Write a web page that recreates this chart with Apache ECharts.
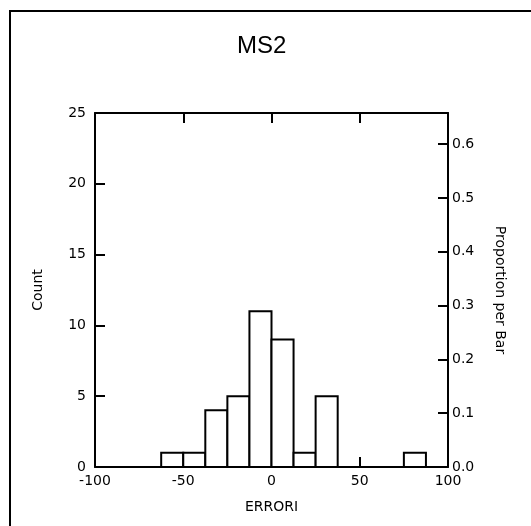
<!DOCTYPE html>
<html>
<head>
<meta charset="utf-8">
<script src="https://cdn.jsdelivr.net/npm/echarts@6/dist/echarts.min.js"></script>
<style>
  html, body { margin: 0; padding: 0; background: #fff; }
  #chart { width: 531px; height: 526px; }
</style>
</head>
<body>
<div id="chart"></div>
<script>
// histogram of ERRORI, bins 12.5 wide
const binStarts = [-62.5, -50, -37.5, -25, -12.5, 0, 12.5, 25, 37.5, 50, 62.5, 75]
const counts = [1, 1, 4, 5, 11, 9, 1, 5, 0, 0, 0, 1]
const binWidth = 12.5
const xTicks = [-100, -50, 0, 50, 100]
const countTicks = [0, 5, 10, 15, 20, 25]
const total = counts.reduce((a, b) => a + b, 0)

const font = 'DejaVu Sans, sans-serif'
const bins = binStarts.map((s, i) => [s, s + binWidth, counts[i]]).filter(d => d[2] > 0)

const line = { onZero: false, show: true, lineStyle: { color: '#000', width: 2 } }
const tick = { show: true, inside: true, length: 10, lineStyle: { color: '#000', width: 2 } }
const txt = { fontFamily: font, fontSize: 14, color: '#000' }

const chart = echarts.init(document.getElementById('chart'))
chart.setOption({
  animation: false,
  backgroundColor: '#fff',
  title: {
    text: 'MS2', left: 232, top: 29,
    textStyle: { fontFamily: 'Liberation Sans, Arial, sans-serif', fontSize: 24, fontWeight: 'normal', color: '#000' }
  },
  graphic: [{
    type: 'polyline',
    shape: { points: [[10, 526], [10, 11], [531, 11]] },
    style: { stroke: '#000', lineWidth: 2, fill: null }
  }],
  grid: { left: 95, right: 83, top: 113, bottom: 59 },
  xAxis: [{
    type: 'value', min: xTicks[0], max: xTicks[xTicks.length - 1], interval: 50,
    position: 'bottom',
    name: 'ERRORI', nameLocation: 'middle', nameGap: 33,
    nameTextStyle: txt,
    axisLine: line, axisTick: tick,
    axisLabel: { ...txt, margin: 7 },
    splitLine: { show: false }
  }, {
    type: 'value', min: -100, max: 100, interval: 50,
    position: 'top',
    axisLine: line, axisTick: tick,
    axisLabel: { show: false },
    splitLine: { show: false }
  }],
  yAxis: [{
    type: 'value', min: 0, max: countTicks[countTicks.length - 1], interval: 5,
    position: 'left',
    name: 'Count', nameLocation: 'middle', nameGap: 50, nameRotate: 90,
    nameTextStyle: txt,
    axisLine: line, axisTick: tick,
    axisLabel: { ...txt, margin: 9 },
    splitLine: { show: false }
  }, {
    type: 'value', min: 0, max: 25 / total, interval: 0.1,
    position: 'right',
    name: 'Proportion per Bar', nameLocation: 'middle', nameGap: 45, nameRotate: -90,
    nameTextStyle: txt,
    axisLine: line, axisTick: tick,
    axisLabel: { ...txt, margin: 4, showMaxLabel: false, formatter: v => v.toFixed(1) },
    splitLine: { show: false }
  }],
  series: [{
    type: 'custom',
    xAxisIndex: 0, yAxisIndex: 0,
    data: bins,
    renderItem: (params, api) => {
      const p0 = api.coord([api.value(0), 0])
      const p1 = api.coord([api.value(1), api.value(2)])
      return {
        type: 'rect',
        shape: { x: p0[0], y: p1[1], width: p1[0] - p0[0], height: p0[1] - p1[1] },
        style: { fill: '#fff', stroke: '#000', lineWidth: 2 }
      }
    }
  }]
})
window.addEventListener('resize', () => chart.resize())
</script>
</body>
</html>
